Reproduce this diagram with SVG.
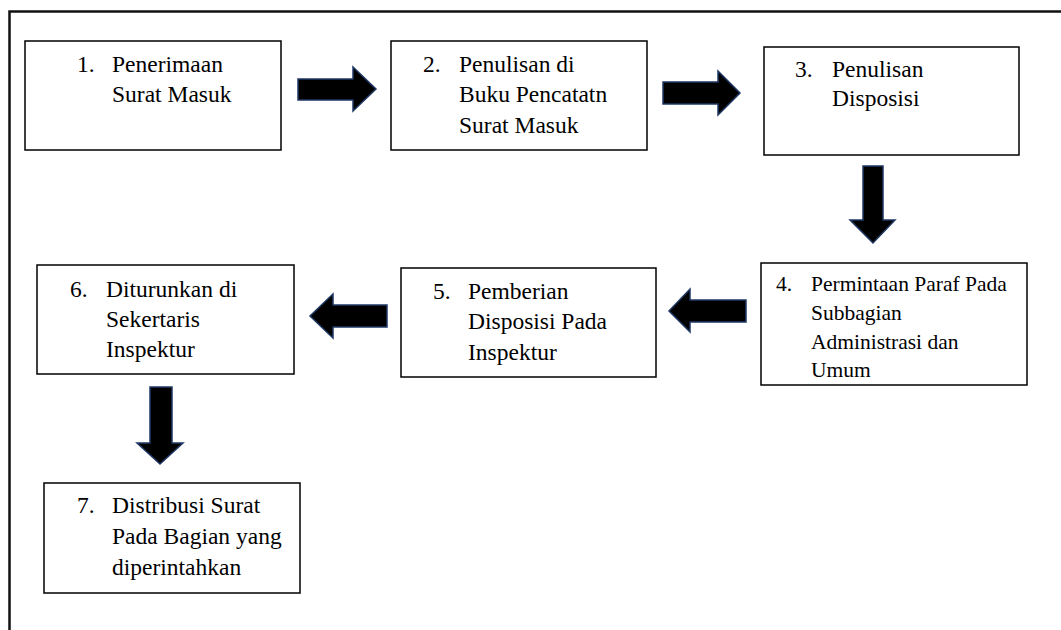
<svg xmlns="http://www.w3.org/2000/svg" width="1061" height="630" viewBox="0 0 1061 630">
<style>
.box{fill:#fff;stroke:#000;stroke-width:1.5}
.t{font-family:'Liberation Serif','DejaVu Serif',serif;font-size:23.5px;fill:#000}
.s{font-size:21.5px}
.arr{fill:#000;stroke:#1f3864;stroke-width:1.5;stroke-linejoin:miter}
.frame{fill:none;stroke:#111;stroke-width:2.5}
</style>
<rect width="1061" height="630" fill="#fff"/>
<path class="frame" d="M9.5,640 V11.5 H1070"/>
<g id="connectors">
<path class="arr" d="M298,79 H353 V67 L376,89 L353,111 V100 H298 Z"/>
<path class="arr" d="M663,82 H718 V71 L740,93 L718,115 V104 H663 Z"/>
<path class="arr" d="M863,166 H883 V220 H895 L873,243 L850,220 H863 Z"/>
<path class="arr" d="M746,300 H690 V289 L669,311 L690,332 V322 H746 Z"/>
<path class="arr" d="M387,305 H333 V294 L310,316 L333,338 V327 H387 Z"/>
<path class="arr" d="M150,387 H172 V443 H183 L160,464 L137,443 H150 Z"/>
</g>
<g font-family="Liberation Serif, DejaVu Serif, serif">
<g id="node1">
<rect class="box" x="25" y="41" width="256" height="109"/>
<text class="t" x="77" y="72">1.</text>
<text class="t" x="112" y="72">Penerimaan</text>
<text class="t" x="112" y="102">Surat Masuk</text>
</g>
<g id="node2">
<rect class="box" x="391" y="41" width="256" height="109"/>
<text class="t" x="423" y="72">2.</text>
<text class="t" x="459" y="72">Penulisan di</text>
<text class="t" x="459" y="102">Buku Pencatatn</text>
<text class="t" x="459" y="133">Surat Masuk</text>
</g>
<g id="node3">
<rect class="box" x="764" y="47" width="255" height="108"/>
<text class="t" x="795" y="77">3.</text>
<text class="t" x="832" y="77">Penulisan</text>
<text class="t" x="832" y="106">Disposisi</text>
</g>
<g id="node4">
<rect class="box" x="761" y="263" width="266" height="122"/>
<text class="t s" x="776" y="291">4.</text>
<text class="t s" x="811" y="291">Permintaan Paraf Pada</text>
<text class="t s" x="811" y="320">Subbagian</text>
<text class="t s" x="811" y="349">Administrasi dan</text>
<text class="t s" x="811" y="377">Umum</text>
</g>
<g id="node5">
<rect class="box" x="401" y="268" width="255" height="109"/>
<text class="t" x="433" y="299">5.</text>
<text class="t" x="468" y="299">Pemberian</text>
<text class="t" x="468" y="329">Disposisi Pada</text>
<text class="t" x="468" y="360">Inspektur</text>
</g>
<g id="node6">
<rect class="box" x="37" y="265" width="257" height="109"/>
<text class="t" x="70" y="297">6.</text>
<text class="t" x="106" y="297">Diturunkan di</text>
<text class="t" x="106" y="327">Sekertaris</text>
<text class="t" x="106" y="357">Inspektur</text>
</g>
<g id="node7">
<rect class="box" x="44" y="483" width="256" height="110"/>
<text class="t" x="77" y="513">7.</text>
<text class="t" x="112" y="513">Distribusi Surat</text>
<text class="t" x="112" y="544">Pada Bagian yang</text>
<text class="t" x="112" y="575">diperintahkan</text>
</g>
</g>
</svg>
